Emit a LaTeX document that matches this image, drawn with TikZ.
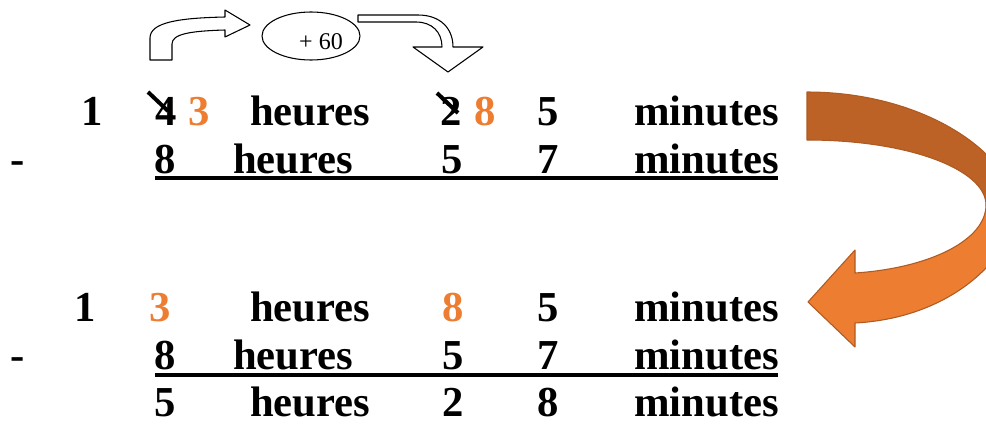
\documentclass[tikz,border=0pt]{standalone}
\usepackage{fontspec}
\setmainfont{Liberation Serif}
\usetikzlibrary{shapes.geometric}
\definecolor{borrowor}{RGB}{237,125,49}
\definecolor{backor}{RGB}{188,98,38}
\definecolor{edgeor}{RGB}{174,90,33}
\tikzset{
	num/.style={font=\bfseries\fontsize{32}{32}\selectfont, inner sep=0pt, text depth=0pt, anchor=base},
	word/.style={num, anchor=base west},
	borrow/.style={num, text=borrowor},
	rule/.style={line width=3pt},
	strike/.style={line width=3pt},
}

\begin{document}
\begin{tikzpicture}[x=0.75pt, y=-0.75pt]
	\tikzstyle{outline}=[draw=black, fill=white, line width=0.8pt, line join=round]
	\tikzstyle{bigarrow}=[draw=edgeor, line width=0.8pt, line join=round]
	\useasboundingbox (0,0) rectangle (986,425);

	% carry: +60 minutes
	\path[outline] (150,60) -- (150,38) .. controls (150,22) and (180,18) .. (225,17) -- (225,10) -- (250,25) -- (225,37) -- (225,30) .. controls (190,31) and (172,34) .. (172,44) -- (172,60) -- cycle;
	\node[ellipse, draw=black, line width=0.8pt, minimum width=73.5pt, minimum height=36pt, inner sep=0pt] (plus) at (311,36) {};
	\node[font=\fontsize{18}{18}\selectfont, anchor=base, inner sep=0pt] (plustxt) at (321,49) {+ 60};
	\path[outline] (358,15) -- (418,15) .. controls (440,15) and (453,28) .. (453,47) -- (483,47) -- (448,72) -- (413,47) -- (442,47) .. controls (442,32) and (432,22) .. (416,22) -- (358,22) -- cycle;

	% first subtraction
	\node[num] (a1) at (92,125) {1};
	\node[num] (a4) at (166,125) {4};
	\node[borrow] (a3) at (199,125) {3};
	\node[word] (ah) at (250,125) {heures};
	\node[num] (a2) at (451,125) {2};
	\node[borrow] (a8) at (485,125) {8};
	\node[num] (a5) at (548,125) {5};
	\node[word] (am) at (634,125) {minutes};

	\node[num] (bm) at (18,173) {-};
	\node[num] (b8) at (165,173) {8};
	\node[word] (bh) at (233,173) {heures};
	\node[num] (b5) at (452,173) {5};
	\node[num] (b7) at (548,173) {7};
	\node[word] (bmin) at (634,173) {minutes};

	\coordinate (s4a) at (148,92);
	\coordinate (s4b) at (168,111);
	\coordinate (s2a) at (437,93);
	\coordinate (s2b) at (458,113);
	\draw[strike] (s4a) -- (s4b);
	\draw[strike] (s2a) -- (s2b);

	\coordinate (u1a) at (155,178);
	\coordinate (u1b) at (778,178);
	\draw[rule] (u1a) -- (u1b);

	% big arrow
	\begin{scope}
		\clip (0,0) rectangle (986,425);
		\path[bigarrow, fill=backor] (807,92) .. controls (930,92) and (1020,160) .. (1015,215) -- (986,205) .. controls (986,170) and (910,140) .. (807,140) -- cycle;
		\path[bigarrow, fill=borrowor] (1015,215) .. controls (1008,260) and (950,318) .. (855,323) -- (855,347) -- (808,302) -- (855,250) -- (855,273) .. controls (930,268) and (986,240) .. (986,205) -- cycle;
	\end{scope}

	% second subtraction
	\node[num] (c1) at (85,321) {1};
	\node[borrow] (c3) at (160,321) {3};
	\node[word] (ch) at (250,321) {heures};
	\node[borrow] (c8) at (453,321) {8};
	\node[num] (c5) at (548,321) {5};
	\node[word] (cm) at (634,321) {minutes};

	\node[num] (dm) at (18,369) {-};
	\node[num] (d8) at (165,369) {8};
	\node[word] (dh) at (233,369) {heures};
	\node[num] (d5) at (453,369) {5};
	\node[num] (d7) at (548,369) {7};
	\node[word] (dmin) at (634,369) {minutes};

	\coordinate (u2a) at (155,375);
	\coordinate (u2b) at (778,375);
	\draw[rule] (u2a) -- (u2b);

	\node[num] (e5) at (165,416) {5};
	\node[word] (eh) at (250,416) {heures};
	\node[num] (e2) at (453,416) {2};
	\node[num] (e8) at (548,416) {8};
	\node[word] (em) at (634,416) {minutes};
\end{tikzpicture}
\end{document}
